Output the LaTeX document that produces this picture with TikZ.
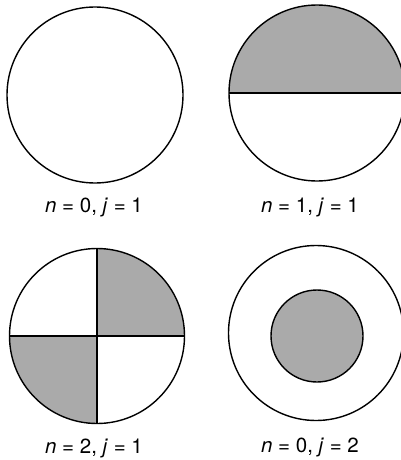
\documentclass[tikz,border=0pt]{standalone}
\usepackage{fontspec}
\setmainfont{TeX Gyre Heros}
\usepackage{xcolor}
\usepackage{tikz}
\usetikzlibrary{
	positioning,
	calc
}
\definecolor{modefill}{RGB}{170,170,170}

\begin{document}
\begin{tikzpicture}[
				x=1pt, y=1pt,
				rim/.style={
					draw, line width=1.4pt
				},
				shaded/.style={
					fill=modefill
				},
				caption/.style={
					font=\fontsize{20.5}{23}\selectfont, inner sep=0pt
				}
				]
				
				% canvas
				\useasboundingbox (0,0) rectangle (401,-460);
				
				% centres
				\coordinate (cA) at (95,-95);
				\coordinate (cB) at (317,-93);
				\coordinate (cC) at (97,-336);
				\coordinate (cD) at (316,-333);
				\coordinate (cDin) at (317,-336);
				
				% n = 0, j = 1
				\draw[rim] (cA) circle (88);
				\node[caption] (labA) at (94,-207) {\textit{n} = 0, \textit{j} = 1};
				
				% n = 1, j = 1
				\fill[shaded] ($(cB)+(-88,0)$) arc (180:0:88) -- cycle;
				\draw[rim] ($(cB)+(-88,0)$) -- ($(cB)+(88,0)$);
				\draw[rim] (cB) circle (88);
				\node[caption] (labB) at (310,-207) {\textit{n} = 1, \textit{j} = 1};
				
				% n = 2, j = 1
				\fill[shaded] (cC) -- ($(cC)+(87.5,0)$) arc (0:90:87.5) -- cycle;
				\fill[shaded] (cC) -- ($(cC)+(-87.5,0)$) arc (180:270:87.5) -- cycle;
				\draw[rim] ($(cC)+(-87.5,0)$) -- ($(cC)+(87.5,0)$);
				\draw[rim] ($(cC)+(0,87.5)$) -- ($(cC)+(0,-87.5)$);
				\draw[rim] (cC) circle (87.5);
				\node[caption] (labC) at (94,-448) {\textit{n} = 2, \textit{j} = 1};
				
				% n = 0, j = 2
				\draw[rim] (cD) circle (87.5);
				\draw[rim, shaded] (cDin) circle (46);
				\node[caption] (labD) at (310,-447) {\textit{n} = 0, \textit{j} = 2};
			\end{tikzpicture}
\end{document}
